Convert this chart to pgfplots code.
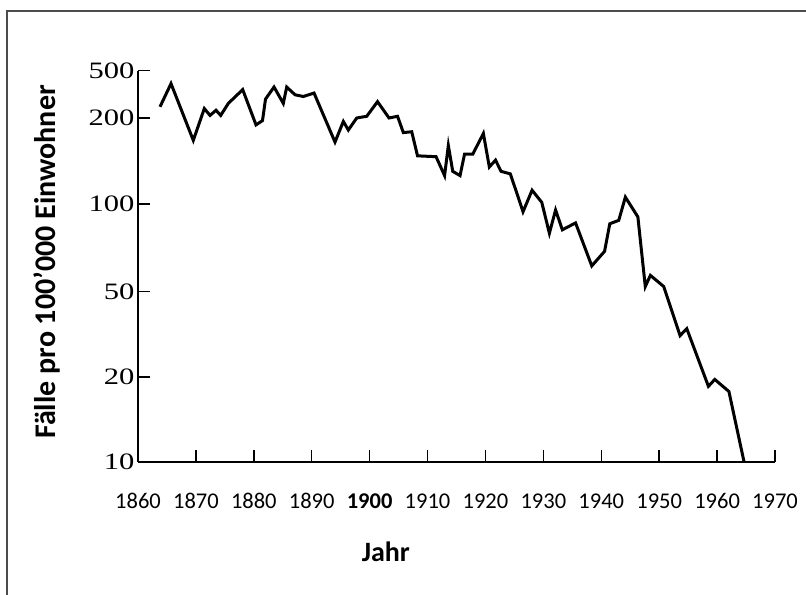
\documentclass[border=0pt]{standalone}
\usepackage{fontspec}
\setmainfont{Liberation Serif}
\newfontfamily\carlito{Carlito}
\usepackage{graphicx}
\usepackage{pgfplots}
\pgfplotsset{compat=1.18}
\begin{document}
\begin{tikzpicture}
\path[use as bounding box] (0,0) rectangle (806bp,595bp);
\draw[line width=1.2bp, black!70] (7bp,0) -- (7bp,584bp) -- (806bp,584bp);
\begin{axis}[
  at={(138bp,133bp)}, anchor=south west,
  scale only axis, width=637bp, height=391.3bp,
  xmin=1860, xmax=1970, ymin=0, ymax=4.55,
  axis x line=bottom, axis y line=left,
  axis line style={-, line width=1.6bp},
  tick align=inside, major tick length=12bp,
  tick style={line width=1.4bp, black},
  xtick={1860,1870,1880,1890,1900,1910,1920,1930,1940,1950,1960,1970},
  xticklabels={1860,1870,1880,1890,\textbf{1900},1910,1920,1930,1940,1950,1960,1970},
  xticklabel style={font=\carlito\fontsize{22.5bp}{22.5bp}\selectfont, anchor=base, yshift=-46bp},
  ytick={0,0.99,1.98,3,4,4.55},
  yticklabels={\scalebox{1.3}[1]{10},\scalebox{1.3}[1]{20},\scalebox{1.3}[1]{50},\scalebox{1.3}[1]{100},\scalebox{1.3}[1]{200},\scalebox{1.3}[1]{500}},
  yticklabel style={font=\fontsize{23.5bp}{23.5bp}\selectfont, anchor=east},
  ylabel={Fälle pro 100’000 Einwohner},
  ylabel style={at={(axis description cs:-0.130,0.511)}, anchor=base, inner sep=0pt, font=\carlito\bfseries\fontsize{30bp}{30bp}\selectfont},
  xlabel={Jahr},
  xlabel style={at={(axis description cs:0.389,-0.253)}, anchor=base, inner sep=0pt, font=\carlito\bfseries\fontsize{28bp}{28bp}\selectfont},
  clip=false,
]
\addplot[line width=3bp, black] coordinates {
(1863.80,4.13) (1865.70,4.40) (1869.55,3.74) (1871.45,4.11) (1872.44,4.03)
(1873.47,4.09) (1874.28,4.03) (1875.60,4.17) (1878.08,4.33) (1880.38,3.92)
(1881.50,3.97) (1882.02,4.22) (1883.49,4.36) (1885.09,4.17) (1885.68,4.36)
(1887.12,4.27) (1888.55,4.25) (1890.40,4.29) (1894.02,3.72) (1895.46,3.96)
(1896.32,3.86) (1897.77,4.00) (1899.50,4.02) (1901.36,4.19) (1903.35,4.00)
(1904.82,4.02) (1905.82,3.83) (1907.27,3.84) (1908.27,3.56) (1911.47,3.55)
(1912.94,3.33) (1913.59,3.68) (1914.35,3.38) (1915.61,3.33) (1916.39,3.58)
(1917.81,3.58) (1919.64,3.82) (1920.67,3.43) (1921.74,3.51) (1922.69,3.38)
(1924.30,3.35) (1926.49,2.91) (1928.05,3.16) (1929.72,3.02) (1931.04,2.66)
(1932.11,2.93) (1933.28,2.70) (1935.56,2.78) (1938.36,2.28) (1940.57,2.45)
(1941.47,2.77) (1943.02,2.81) (1944.16,3.08) (1946.32,2.85) (1947.60,2.04)
(1948.48,2.17) (1950.79,2.04) (1953.61,1.47) (1954.77,1.55) (1958.50,0.88)
(1959.60,0.96) (1962.04,0.82) (1964.66,0.00)
};
\end{axis}
\end{tikzpicture}
\end{document}
